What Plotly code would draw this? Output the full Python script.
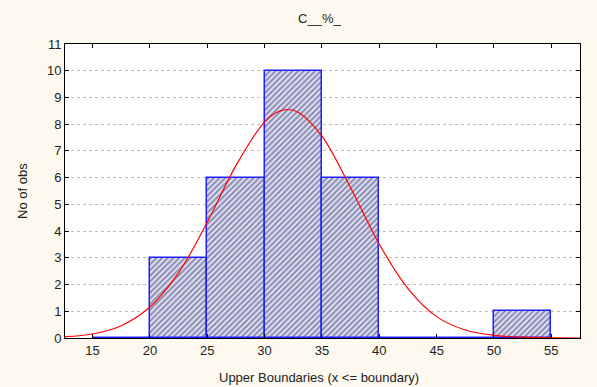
import plotly.graph_objects as go

# Histogram data
bin_centers = [17.5, 22.5, 27.5, 32.5, 37.5, 42.5, 47.5, 52.5]
counts = [0, 3, 6, 10, 6, 0, 0, 1]
bin_width = 5

# Fitted normal curve
curve_x = [12.6, 15, 17.5, 20, 22.5, 25, 27.5, 30, 31, 32, 33, 35, 37.5, 40, 42.5, 45, 47.5, 50, 52.5, 55, 57.5]
curve_y = [0.05, 0.15, 0.46, 1.16, 2.44, 4.33, 6.45, 8.09, 8.43, 8.55, 8.43, 7.55, 5.62, 3.51, 1.85, 0.80, 0.30, 0.10, 0.03, 0.01, 0.0]

x_ticks = [15, 20, 25, 30, 35, 40, 45, 50, 55]
y_ticks = list(range(0, 12))

title_text = "C__%_"
x_title = "Upper Boundaries (x <= boundary)"
y_title = "No of obs"

font = "Liberation Sans, Arial, sans-serif"
txt = "#222222"

fig = go.Figure()
fig.add_trace(go.Bar(
    x=bin_centers, y=counts, width=[bin_width] * len(counts),
    marker=dict(
        color="#e2e2f2",
        line=dict(color="#1f1fff", width=1.5),
        pattern=dict(shape="/", fgcolor="#2e3270", bgcolor="#e2e2f2", size=4, solidity=0.5),
    ),
    showlegend=False, hoverinfo="x+y",
))
fig.add_trace(go.Scatter(
    x=curve_x, y=curve_y, mode="lines", line=dict(color="#ff0000", width=1.2, shape="spline"),
    showlegend=False,
))

fig.update_layout(
    width=597, height=387,
    margin=dict(l=65, r=17, t=44, b=49, autoexpand=False),
    paper_bgcolor="#fdf9ee", plot_bgcolor="#ffffff",
    bargap=0,
    font=dict(family=font, size=13, color=txt),
    title=dict(text=title_text, x=0.535, xanchor="center", y=0.953, yanchor="middle",
               font=dict(family=font, size=13, color=txt)),
    annotations=[
        dict(text=x_title, xref="paper", yref="paper", x=0.5, y=0, xanchor="center", yanchor="middle",
             xshift=-4, yshift=-39, showarrow=False, font=dict(size=13, color=txt)),
        dict(text=y_title, xref="paper", yref="paper", x=0, y=0.5, xanchor="center", yanchor="middle",
             xshift=-43, textangle=-90, showarrow=False, font=dict(size=13, color=txt)),
    ],
)
fig.update_xaxes(
    range=[12.6, 57.5], tickvals=x_ticks, ticks="inside", ticklen=4, tickcolor="#000",
    showline=True, linecolor="#000", linewidth=1, mirror="ticks", showgrid=False, zeroline=False,
    tickfont=dict(size=13), automargin=False,
)
fig.update_yaxes(
    range=[0, 11], tickvals=y_ticks, ticks="inside", ticklen=4, tickcolor="#000",
    showline=True, linecolor="#000", linewidth=1, mirror="ticks",
    showgrid=True, gridcolor="#bdbdbd", griddash="dot", gridwidth=1, zeroline=False,
    tickfont=dict(size=13), automargin=False,
)

fig.write_html("out.html")
